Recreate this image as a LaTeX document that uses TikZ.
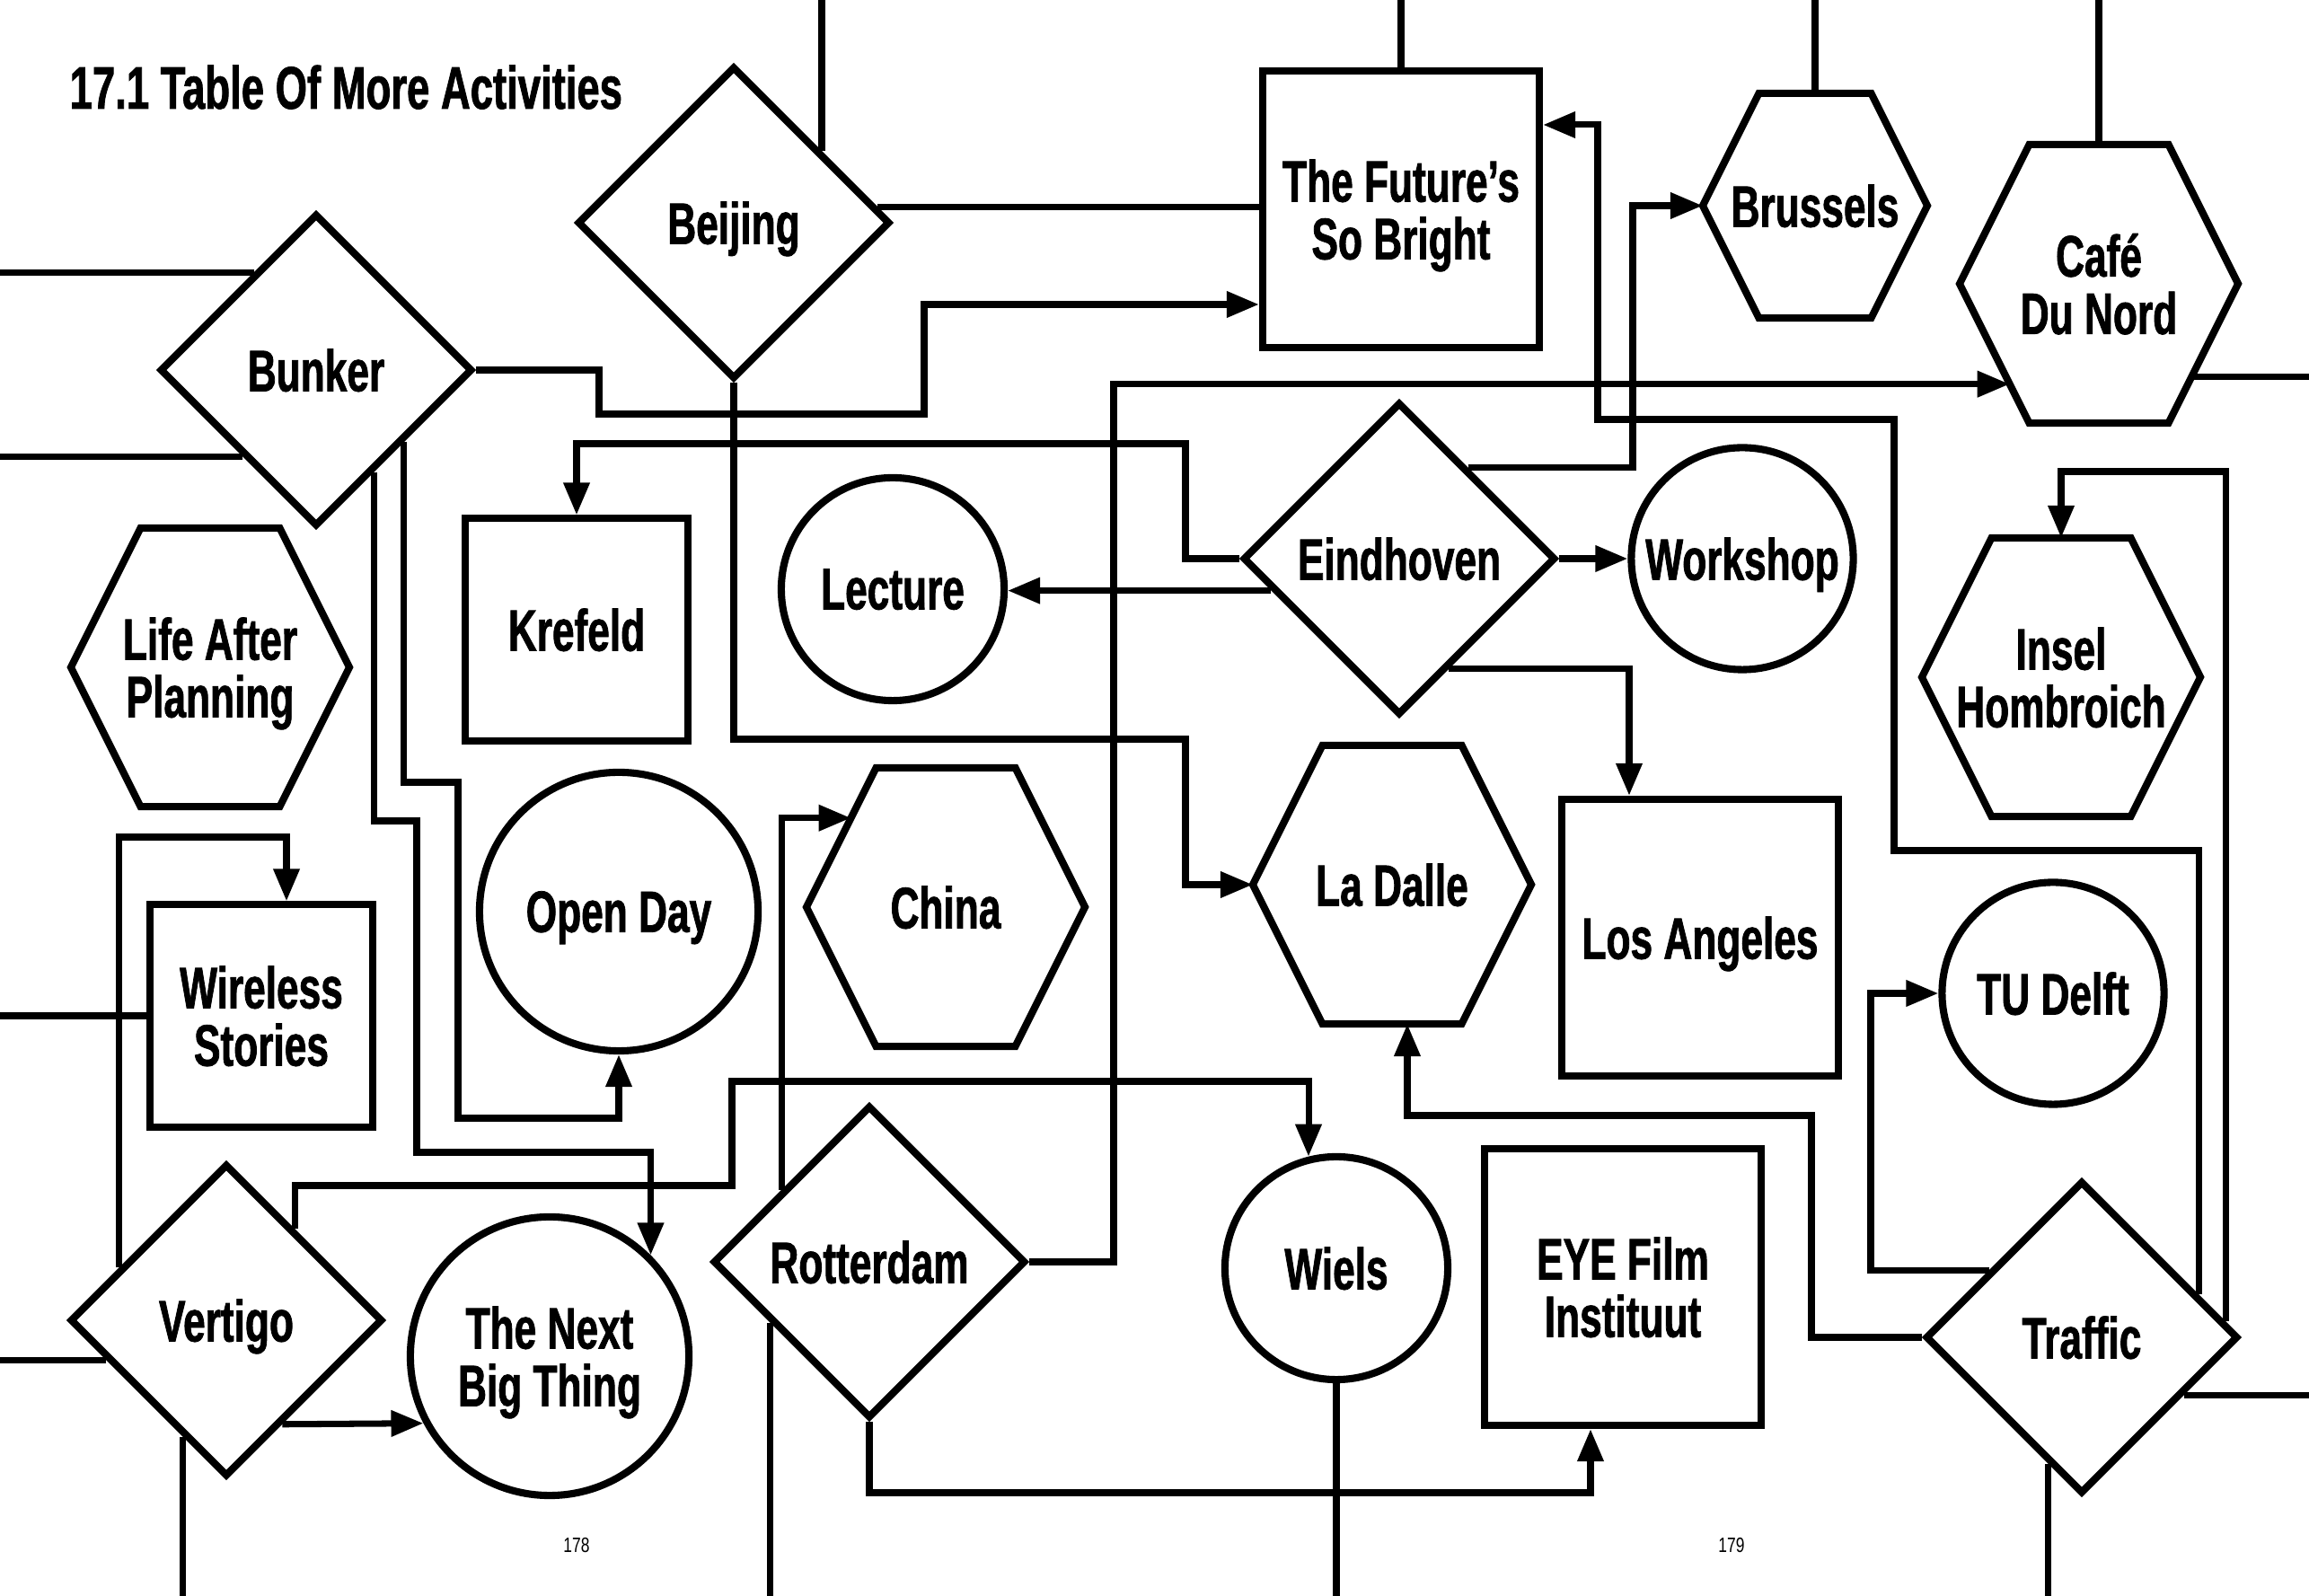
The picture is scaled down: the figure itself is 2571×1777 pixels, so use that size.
\documentclass[tikz,border=0pt]{standalone}
\usepackage{fontspec}
\newfontfamily\gothicfamily{Liberation Sans}[FakeStretch=0.68,FakeBold=1.2]
\newfontfamily\foliofamily{Liberation Sans}[FakeStretch=0.75]
\usetikzlibrary{shapes.geometric,arrows.meta,calc}

\tikzset{
  outline/.style={line width=2.3pt},
  venue/.style={outline, draw, inner sep=1pt, align=center, text depth=0pt,
    font=\gothicfamily\bfseries\fontsize{18.5}{18.2}\selectfont},
  squarebox/.style={venue, rectangle, minimum width=#1, minimum height=#1},
  squarebox/.default=3.08cm,
  roundbox/.style={venue, circle, minimum size=#1},
  roundbox/.default=3.1cm,
  decision/.style={venue, diamond, aspect=1, inner sep=0pt,
    minimum width=3.48cm, minimum height=3.48cm},
  hexbox/.style={venue, draw=none, rectangle, outer sep=0pt,
    minimum width=#1, minimum height=#1},
  hexbox/.default=3.1cm,
  wire/.style={line width=2pt},
  feed/.style={wire, -{Triangle[length=3.6mm,width=2.8mm]}},
}

% hexagon round a node: flat top and bottom, half as wide as the node
\newcommand\hexframe[1]{%
  \coordinate (#1-nw) at ($(#1.north west)!.25!(#1.north east)$);
  \coordinate (#1-ne) at ($(#1.north west)!.75!(#1.north east)$);
  \coordinate (#1-sw) at ($(#1.south west)!.25!(#1.south east)$);
  \coordinate (#1-se) at ($(#1.south west)!.75!(#1.south east)$);
  \draw[outline] (#1-nw) -- (#1-ne) -- (#1.east) -- (#1-se) -- (#1-sw)
    -- (#1.west) -- cycle;}

\begin{document}
\begin{tikzpicture}[x=0.01cm,y=-0.01cm]
  \path[use as bounding box, fill=white] (0,0) rectangle (2571,1777);
  \coordinate (pagetop) at (0,0);
  \coordinate (pageleft) at (0,0);
  \coordinate (pagebottom) at (0,1777);
  \coordinate (pageright) at (2571,0);

  \node[anchor=base west, inner sep=0pt,
    font=\gothicfamily\bfseries\fontsize{19}{19}\selectfont]
    (title) at (77,121) {17.1 Table Of More Activities};

  % places
  \node[decision] (beijing) at (817,248) {Beijing};
  \node[decision] (bunker) at (352,412) {Bunker};
  \node[squarebox] (future) at (1560,233) {The Future’s\\So Bright};
  \node[hexbox=2.5cm] (brussels) at (2021,229) {Brussels};
  \node[hexbox] (cafe) at (2337,316) {Café\\Du Nord};
  \node[squarebox=2.47cm] (krefeld) at (642,701) {Krefeld};
  \node[roundbox=2.48cm] (lecture) at (994,656) {Lecture};
  \node[decision] (eindhoven) at (1558,622) {Eindhoven};
  \node[roundbox=2.47cm] (workshop) at (1940,622) {Workshop};
  \node[hexbox] (life) at (234,743) {Life After\\Planning};
  \node[hexbox] (china) at (1053,1010) {China};
  \node[roundbox] (openday) at (689,1015) {Open Day};
  \node[hexbox] (ladalle) at (1550,985) {La Dalle};
  \node[squarebox] (losangeles) at (1893,1044) {Los Angeles};
  \node[hexbox] (insel) at (2295,754) {Insel\\Hombroich};
  \node[roundbox=2.47cm] (tudelft) at (2286,1106) {TU Delft};
  \node[squarebox=2.47cm] (wireless) at (291,1131) {Wireless\\Stories};
  \node[decision] (vertigo) at (252,1470) {Vertigo};
  \node[roundbox] (nextbig) at (612,1510) {The Next\\Big Thing};
  \node[decision] (rotterdam) at (968,1405) {Rotterdam};
  \node[roundbox=2.48cm] (wiels) at (1488,1412) {Wiels};
  \node[squarebox] (eye) at (1807,1433) {EYE Film\\Instituut};
  \node[decision] (traffic) at (2318,1489) {Traffic};

  \hexframe{brussels}
  \hexframe{cafe}
  \hexframe{life}
  \hexframe{china}
  \hexframe{ladalle}
  \hexframe{insel}

  % lines running off the page
  \draw[wire] ($(beijing.north)!.55!(beijing.east)$) coordinate (b1) -- (b1 |- pagetop);
  \draw[wire] (future.north) -- (future.north |- pagetop);
  \draw[wire] (brussels.north) -- (brussels.north |- pagetop);
  \draw[wire] (cafe.north) -- (cafe.north |- pagetop);
  \draw[wire] ($(bunker.west)!.61!(bunker.north)$) coordinate (b2) -- (b2 -| pageleft);
  \draw[wire] ($(bunker.west)!.54!(bunker.south)$) coordinate (b3) -- (b3 -| pageleft);
  \draw[wire] (wireless.west) -- (wireless.west -| pageleft);
  \draw[wire] ($(vertigo.west)!.25!(vertigo.south)$) coordinate (v1) -- (v1 -| pageleft);
  \draw[wire] ($(vertigo.west)!.73!(vertigo.south)$) coordinate (v2) -- (v2 |- pagebottom);
  \draw[wire] ($(rotterdam.west)!.38!(rotterdam.south)$) coordinate (r1) -- (r1 |- pagebottom);
  \draw[wire] (wiels.south) -- (wiels.south |- pagebottom);
  \draw[wire] ($(traffic.west)!.79!(traffic.south)$) coordinate (t1) -- (t1 |- pagebottom);
  \draw[wire] ($(traffic.east)!.36!(traffic.south)$) coordinate (t2) -- (t2 -| pageright);
  \draw[wire] ($(cafe.east)!.67!(cafe-se)$) coordinate (c1) -- (c1 -| pageright);
  \draw[wire] ($(beijing.east)!.1!(beijing.north)$) coordinate (b4) -- (b4 -| future.west);

  % arrows
  \draw[feed] (bunker.east) -| (667,461) -| (1029,339) -- (future.west |- 0,339);
  \draw[feed] (beijing.south) |- (1320,823) |- (ladalle.west);
  \draw[feed] (eindhoven.west) -| (1320,494) -| (krefeld.north);
  \draw[feed] ($(eindhoven.west)!.2!(eindhoven.south)$) coordinate (e1) -- (e1 -| lecture.east);
  \draw[feed] (eindhoven.east) -- (workshop.west);
  \draw[feed] ($(eindhoven.east)!.57!(eindhoven.north)$) -| (1818,400) |- (brussels.west);
  \draw[feed] ($(eindhoven.east)!.69!(eindhoven.south)$) -| (1814,0 |- losangeles.north);
  \draw[feed] (rotterdam.east) -| (1240,800) |- ($(cafe.west)!.72!(cafe-sw)$);
  \draw[feed] ($(traffic.north)!.73!(traffic.east)$) |- (2109,947) |- (1779,467)
    |- (future.east |- 0,139);
  \draw[feed] ($(traffic.north)!.9!(traffic.east)$) |- (insel.north |- 0,525) -- (insel.north);
  \draw[feed] (traffic.west) -| (2017,1242) -| (1567,0 |- ladalle.south);
  \draw[feed] ($(traffic.west)!.42!(traffic.north)$) -| (2083,1300) |- (tudelft.west);
  \draw[feed] (rotterdam.south) |- (1771,1662) -- (1771,0 |- eye.south);
  \draw[feed] ($(rotterdam.north)!.55!(rotterdam.west)$) |- ($(china.west)!.64!(china-nw)$);
  \draw[feed] ($(vertigo.north)!.43!(vertigo.east)$) |- (815,1320) |- (wiels.104 |- 0,1204)
    -- (wiels.104);
  \draw[feed] ($(vertigo.east)!.65!(vertigo.south)$) -- (nextbig.208);
  \draw[feed] ($(vertigo.west)!.33!(vertigo.north)$) |- (319,932) -- (319,0 |- wireless.north);
  \draw[feed] ($(bunker.east)!.45!(bunker.south)$) |- (510,871) |- (openday.south |- 0,1245)
    -- (openday.south);
  \draw[feed] ($(bunker.east)!.64!(bunker.south)$) |- (464,914) |- (nextbig.45 |- 0,1283)
    -- (nextbig.45);

  % page numbers
  \node[font=\foliofamily\fontsize{6.6}{8}\selectfont] (folioleft) at (642,1721) {178};
  \node[font=\foliofamily\fontsize{6.6}{8}\selectfont] (folioright) at (1928,1721) {179};
\end{tikzpicture}
\end{document}
